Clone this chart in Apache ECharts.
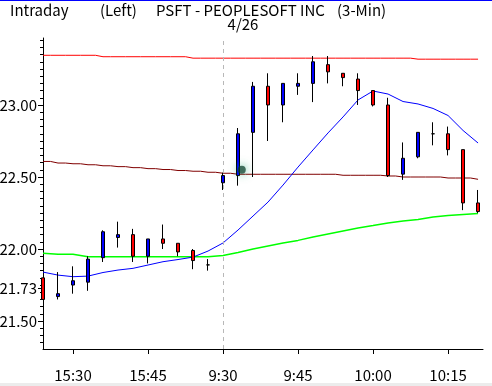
<!DOCTYPE html>
<html><head><meta charset="utf-8">
<script src="https://cdn.jsdelivr.net/npm/echarts@6/dist/echarts.min.js"></script>
<style>html,body{margin:0;padding:0;background:#fff}#c{width:492px;height:386px}</style>
</head><body><div id="c"></div>
<script>
// 3-minute bars, previous session close and next morning
const times = ['15:24','15:27','15:30','15:33','15:36','15:39','15:42','15:45','15:48','15:51','15:54','15:57',
  '9:30','9:33','9:36','9:39','9:42','9:45','9:48','9:51','9:54','9:57','10:00','10:03','10:06','10:09','10:12','10:15','10:18','10:21'];
const tickLabels = ['15:30','15:45','9:30','9:45','10:00','10:15'];
const yLabels = [21.50, 21.73, 22.00, 22.50, 23.00];
const sessionBreak = '9:30';

const open  = [21.80,21.67,21.75,21.77,21.94,22.08,22.10,21.95,22.07,22.04,21.99,21.89,
  22.46,22.51,22.81,23.13,23.00,23.13,23.15,23.28,23.22,23.18,23.10,23.00,22.52,22.64,22.80,22.80,22.69,22.32];
const close = [21.65,21.69,21.78,21.93,22.12,22.10,21.95,22.07,22.04,21.98,21.92,21.89,
  22.51,22.80,23.13,23.00,23.15,23.15,23.30,23.23,23.19,23.10,23.00,22.51,22.63,22.81,22.80,22.69,22.32,22.26];
const low   = [21.65,21.65,21.69,21.71,21.91,22.01,21.91,21.90,22.00,21.95,21.86,21.85,
  22.41,22.44,22.50,22.75,22.88,23.07,23.02,23.15,23.13,23.00,22.99,22.50,22.48,22.63,22.72,22.65,22.27,22.25];
const high  = [21.80,21.84,21.88,21.95,22.13,22.19,22.14,22.07,22.17,22.04,22.00,21.93,
  22.53,22.84,23.16,23.22,23.15,23.22,23.34,23.34,23.22,23.22,23.10,23.05,22.74,22.81,22.88,22.85,22.69,22.41];

const upperBand = [23.345,23.345,23.345,23.345,23.335,23.335,23.335,23.335,23.335,23.335,23.325,23.325,
  23.325,23.325,23.325,23.325,23.325,23.325,23.325,23.325,23.325,23.325,23.325,23.325,23.325,23.318,23.318,23.318,23.318,23.318];
const midBand = [22.608,22.597,22.592,22.585,22.578,22.572,22.565,22.558,22.552,22.545,22.540,22.533,
  22.526,22.519,22.519,22.519,22.519,22.519,22.519,22.519,22.512,22.512,22.512,22.507,22.500,22.500,22.500,22.493,22.493,22.484];
const fastMA = [21.840,21.819,21.808,21.812,21.837,21.854,21.866,21.889,21.912,21.927,21.944,21.986,
  22.042,22.132,22.229,22.326,22.444,22.569,22.688,22.806,22.917,23.035,23.097,23.076,23.024,23.007,22.976,22.927,22.823,22.736];
const slowMA = [21.970,21.963,21.963,21.947,21.947,21.947,21.947,21.947,21.947,21.947,21.947,21.947,
  21.955,21.976,22.000,22.021,22.042,22.060,22.083,22.104,22.125,22.146,22.163,22.181,22.194,22.205,22.222,22.233,22.240,22.247];
const glint = [[13.25, 22.55]];

const FONT = '"Noto Sans CJK JP","Liberation Sans",sans-serif';
const tickIdx = tickLabels.map(l => times.indexOf(l));
const minorTicks = [];
for (let k = 427; k <= 469; k++) minorTicks.push(+(k * 0.05).toFixed(2));

const chart = echarts.init(document.getElementById('c'), null, {renderer: 'canvas'});
const lineSeries = (arr, color, width, step, z) => ({
  type: 'line', data: arr.map((v, i) => [i, v]), showSymbol: false, symbol: 'none',
  step: step, lineStyle: {color: color, width: width}, z: z, silent: true
});
const mid = lineSeries(midBand, '#800000', 1, 'middle', 2);
mid.markLine = {silent: true, symbol: 'none', label: {show: false}, animation: false,
  lineStyle: {color: '#b8b8b8', type: [4, 4], width: 1},
  data: [{xAxis: times.indexOf(sessionBreak)}]};

chart.setOption({
  animation: false,
  backgroundColor: '#ffffff',
  grid: {left: 43, right: 9, top: 38, bottom: 37, containLabel: false, outerBoundsMode: 'none'},
  xAxis: {
    type: 'value', min: 0, max: 29.33,
    axisLine: {lineStyle: {color: '#000', width: 1}},
    axisTick: {customValues: tickIdx, length: 5, lineStyle: {color: '#000'}},
    axisLabel: {customValues: tickIdx, formatter: v => times[Math.round(v)], color: '#000',
      fontFamily: FONT, fontSize: 15, margin: 19},
    splitLine: {show: false}
  },
  yAxis: [{
    type: 'value', min: 21.306, max: 23.465, position: 'left',
    axisLine: {show: true, lineStyle: {color: '#000', width: 1}},
    axisTick: {show: true, customValues: yLabels, length: 5, lineStyle: {color: '#000'}},
    axisLabel: {customValues: yLabels, formatter: v => v.toFixed(2), color: '#000',
      fontFamily: FONT, fontSize: 15, margin: 6},
    splitLine: {show: false}
  }, {
    type: 'value', min: 21.306, max: 23.465, position: 'left', offset: 0,
    axisLine: {show: false},
    axisTick: {show: true, customValues: minorTicks, length: 3, lineStyle: {color: '#000'}},
    axisLabel: {show: false},
    splitLine: {show: false}
  }],
  series: [
    lineSeries(upperBand, '#ff0000', 1, 'middle', 2),
    mid,
    lineSeries(slowMA, '#00ff00', 1.5, false, 2),
    lineSeries(fastMA, '#0000ff', 1, false, 2),
    {
      type: 'candlestick', z: 5, barWidth: 4, clip: true,
      encode: {x: 0, y: [1, 2, 3, 4]},
      data: times.map((t, i) => [i, open[i], close[i], low[i], high[i]]),
      itemStyle: {color: '#0000ff', color0: '#ff0000', borderColor: '#000', borderColor0: '#000',
        borderColorDoji: '#000', borderWidth: 1}
    },
    {
      type: 'scatter', z: 6, data: glint, symbolSize: 8, silent: true,
      itemStyle: {color: 'rgba(10,60,40,0.9)', shadowBlur: 10, shadowColor: 'rgba(0,160,100,1)'}
    }
  ],
  graphic: [
    {type: 'rect', shape: {x: 0, y: 0, width: 492, height: 1}, style: {fill: '#0000ff'}},
    {type: 'rect', shape: {x: 0, y: 383, width: 492, height: 3}, style: {fill: '#ececec'}},
    {type: 'text', x: 10, y: 10, style: {text: 'Intraday', font: '15px ' + FONT, fill: '#000', verticalAlign: 'middle'}},
    {type: 'text', x: 100, y: 10, style: {text: '(Left)', font: '15px ' + FONT, fill: '#000', verticalAlign: 'middle'}},
    {type: 'text', x: 156, y: 10, style: {text: 'PSFT - PEOPLESOFT INC', font: '15px ' + FONT, fill: '#000', verticalAlign: 'middle'}},
    {type: 'text', x: 337, y: 10, style: {text: '(3-Min)', font: '15px ' + FONT, fill: '#000', verticalAlign: 'middle'}},
    {type: 'text', x: 243, y: 24.5, style: {text: '4/26', font: '15px ' + FONT, fill: '#000', align: 'center', verticalAlign: 'middle'}}
  ]
});
</script></body></html>
